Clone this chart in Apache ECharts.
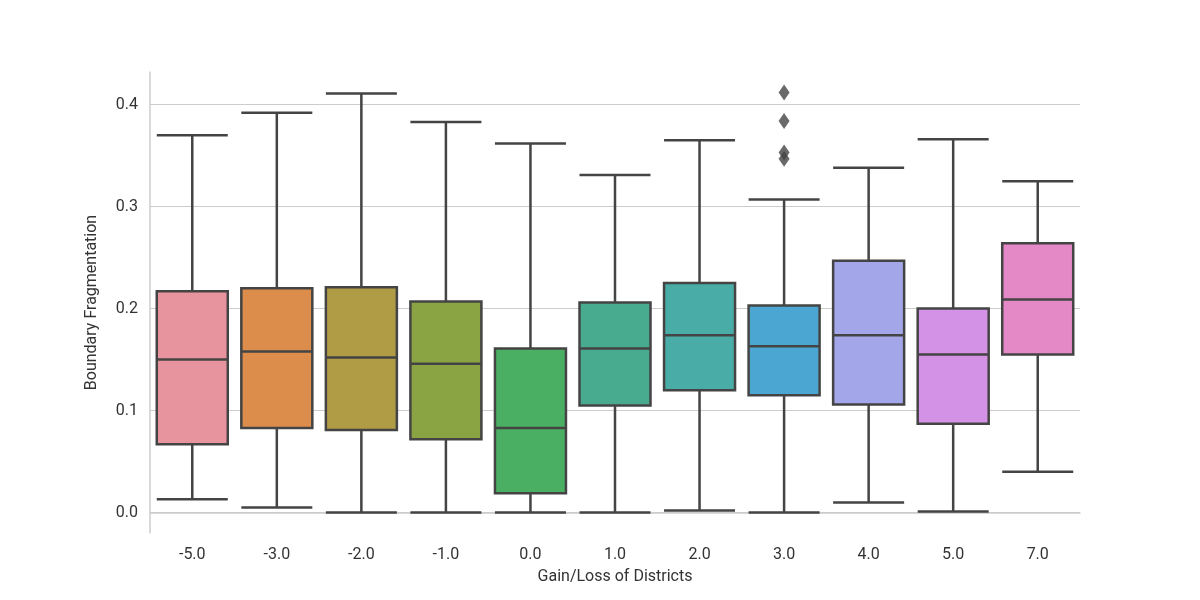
<html>
<head>
<meta charset="utf-8">
<script src="https://cdn.jsdelivr.net/npm/echarts@6/dist/echarts.min.js"></script>
</head>
<body style="margin:0">
<div id="main" style="width:1200px;height:600px;"></div>
<script>
var categories = ['-5.0','-3.0','-2.0','-1.0','0.0','1.0','2.0','3.0','4.0','5.0','7.0'];
// [min, q1, median, q3, max]
var boxes = [
    [0.013, 0.067, 0.150, 0.217, 0.370],
    [0.005, 0.083, 0.158, 0.220, 0.392],
    [0.000, 0.081, 0.152, 0.221, 0.411],
    [0.000, 0.072, 0.146, 0.207, 0.383],
    [0.000, 0.019, 0.083, 0.161, 0.362],
    [0.000, 0.105, 0.161, 0.206, 0.331],
    [0.002, 0.120, 0.174, 0.225, 0.365],
    [0.000, 0.115, 0.163, 0.203, 0.307],
    [0.010, 0.106, 0.174, 0.247, 0.338],
    [0.001, 0.087, 0.155, 0.200, 0.366],
    [0.040, 0.155, 0.209, 0.264, 0.325]
];
var colors = ['#e8949f','#dc8d4c','#b09c45','#8aa444','#4aaf63','#48ab8f','#4aaca7','#4ba7d1','#a4a6ea','#d492e6','#e589c6'];
var outliers = [['3.0',0.412],['3.0',0.384],['3.0',0.353],['3.0',0.347]];
var gridValues = [0, 0.1, 0.2, 0.3, 0.4];

var myChart = echarts.init(document.getElementById('main'));
var font = 'Roboto';
var option = {
    animation: false,
    grid: {left: 150, right: 120, top: 72, bottom: 67},
    xAxis: {
        type: 'category', data: categories,
        name: 'Gain/Loss of Districts', nameLocation: 'middle', nameGap: 36,
        nameTextStyle: {color: '#333', fontSize: 16, fontFamily: font},
        axisLine: {lineStyle: {color: '#ccc', width: 1.5}},
        axisTick: {show: false},
        axisLabel: {color: '#333', fontSize: 16, fontFamily: font, margin: 14}
    },
    yAxis: {
        type: 'value', min: -0.02, max: 0.432, interval: 0.02,
        name: 'Boundary Fragmentation', nameLocation: 'middle', nameGap: 50,
        nameTextStyle: {color: '#333', fontSize: 16, fontFamily: font},
        axisLine: {show: true, lineStyle: {color: '#ccc', width: 1.5}},
        axisTick: {show: false},
        splitLine: {show: false},
        axisLabel: {
            color: '#333', fontSize: 16, fontFamily: font, margin: 12,
            formatter: function (v) {
                return Math.abs(v * 10 - Math.round(v * 10)) < 1e-6 && v >= -1e-9 ? Math.abs(v).toFixed(1) : '';
            }
        }
    },
    series: [{
        type: 'boxplot',
        boxWidth: [71, 71],
        data: boxes.map(function (b, i) {
            return {value: b, itemStyle: {color: colors[i], borderColor: '#444', borderWidth: 2.5}};
        }),
        markLine: {
            silent: true, symbol: 'none', label: {show: false}, z: 0,
            lineStyle: {color: '#ccc', width: 1.2, type: 'solid'},
            data: gridValues.map(function (v) { return {yAxis: v}; })
        },
        z: 3
    }, {
        type: 'scatter',
        data: outliers,
        symbol: 'diamond',
        symbolSize: [11, 16],
        itemStyle: {color: '#444'},
        z: 4
    }]
};
myChart.setOption(option);
</script>
</body>
</html>
